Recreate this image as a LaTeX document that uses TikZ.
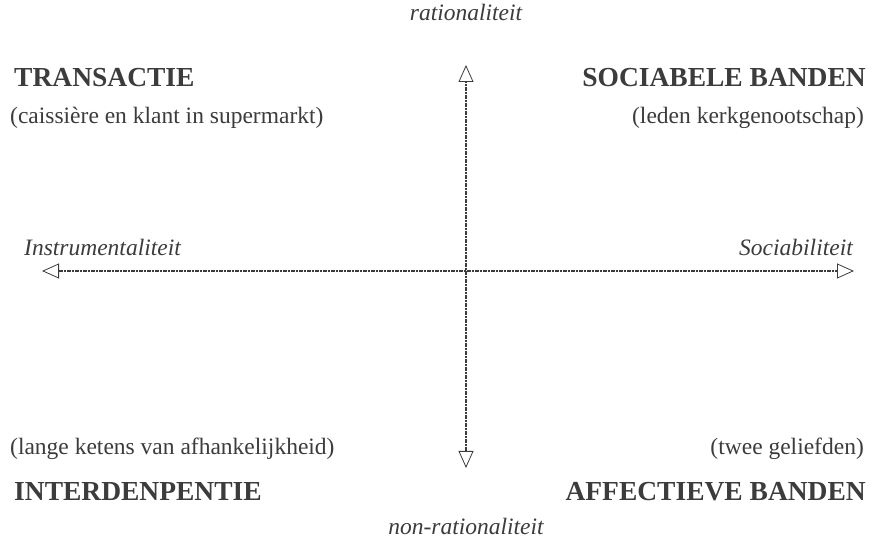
\documentclass[tikz,border=0pt]{standalone}
\usepackage{fontspec}
\setmainfont{Liberation Serif}
\usetikzlibrary{arrows.meta}
\definecolor{ink}{RGB}{60,60,60}
\tikzset{
  axis/.style={draw=ink, line width=2.2pt, dash pattern=on 1.2pt off 0.4pt,
    {Triangle[open, fill=white, length=17pt, width=15pt, line width=0.8pt]}-{Triangle[open, fill=white, length=17pt, width=15pt, line width=0.8pt]}},
  axlabel/.style={font=\fontsize{23.5}{26}\selectfont\itshape, text=ink, inner sep=0pt},
  title/.style={font=\fontsize{27.5}{30}\selectfont\bfseries, text=ink, inner sep=0pt},
  example/.style={font=\fontsize{23.5}{26}\selectfont, text=ink, inner sep=0pt}
}
\begin{document}
\begin{tikzpicture}[x=1pt,y=1pt]
\useasboundingbox[fill=white] (0,0) rectangle (879,543);
\coordinate (vtop) at (466,478);
\coordinate (vbot) at (466,75);
\coordinate (hleft) at (42,272);
\coordinate (hright) at (854,272);
\draw[axis] (vbot) -- (vtop);
\draw[axis] (hleft) -- (hright);
\node[axlabel, anchor=base] (rat) at (466,522) {rationaliteit};
\node[axlabel, anchor=base] (nonrat) at (466,8) {non-rationaliteit};
\node[axlabel, anchor=base west] (instr) at (24,287) {Instrumentaliteit};
\node[axlabel, anchor=base east] (soc) at (853,287) {Sociabiliteit};
\node[title, anchor=base west] (trans) at (14,456) {TRANSACTIE};
\node[example, anchor=base west] (transex) at (10,419) {(caissière en klant in supermarkt)};
\node[title, anchor=base east] (socb) at (866,456) {SOCIABELE BANDEN};
\node[example, anchor=base east] (socbex) at (864,419) {(leden kerkgenootschap)};
\node[example, anchor=base west] (interex) at (10,88) {(lange ketens van afhankelijkheid)};
\node[title, anchor=base west] (inter) at (14,42) {INTERDENPENTIE};
\node[example, anchor=base east] (affex) at (864,88) {(twee geliefden)};
\node[title, anchor=base east] (aff) at (866,42) {AFFECTIEVE BANDEN};
\end{tikzpicture}
\end{document}
